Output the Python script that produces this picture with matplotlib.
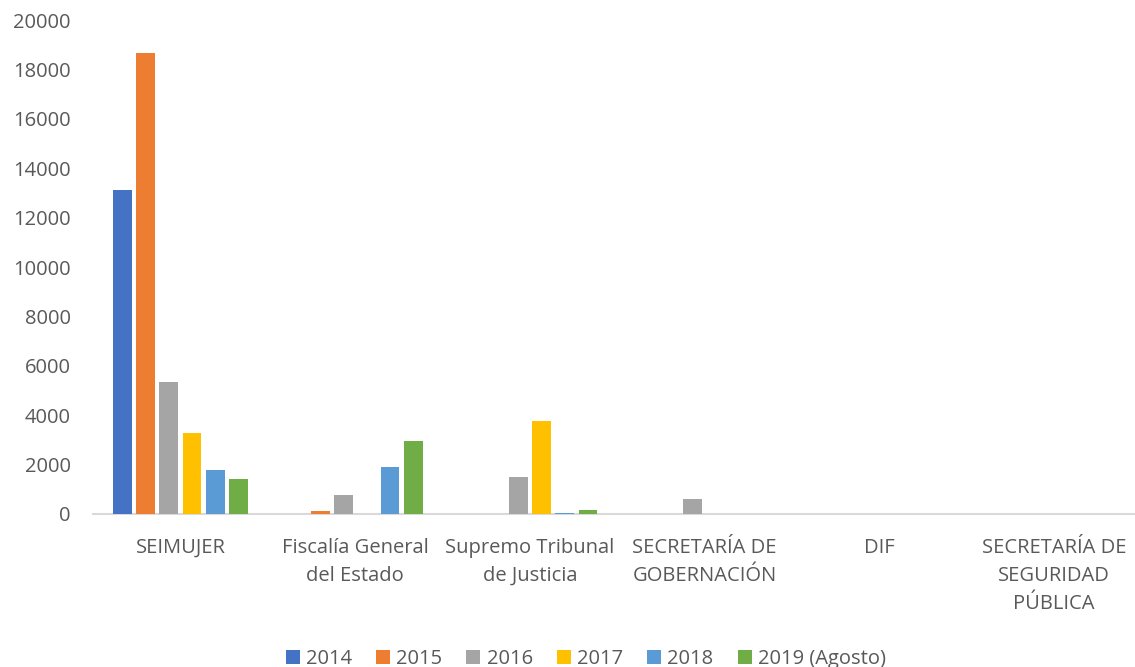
import matplotlib
matplotlib.use("Agg")
import matplotlib.pyplot as plt
import numpy as np

categories = ["SEIMUJER", "Fiscalía General\ndel Estado", "Supremo Tribunal\nde Justicia",
              "SECRETARÍA DE\nGOBERNACIÓN", "DIF", "SECRETARÍA DE\nSEGURIDAD\nPÚBLICA"]
series_names = ["2014", "2015", "2016", "2017", "2018", "2019 (Agosto)"]
v2014 = [13100, 0, 0, 0, 0, 0]
v2015 = [18650, 120, 0, 0, 0, 0]
v2016 = [5330, 770, 1485, 625, 0, 0]
v2017 = [3290, 0, 3780, 0, 0, 0]
v2018 = [1770, 1890, 20, 0, 0, 0]
v2019 = [1420, 2940, 150, 0, 0, 0]
yticks = [0, 2000, 4000, 6000, 8000, 10000, 12000, 14000, 16000, 18000, 20000]

series = [v2014, v2015, v2016, v2017, v2018, v2019]
colors = ["#4472C4", "#ED7D31", "#A5A5A5", "#FFC000", "#5B9BD5", "#70AD47"]

plt.rcParams['font.family'] = ['Open Sans', 'DejaVu Sans']
fig = plt.figure(figsize=(11.35, 6.67), dpi=100)
ax = fig.add_axes([0.082, 0.2294, 0.918, 0.7406])

x = np.arange(len(categories))
pitch = 0.1334
width = 0.108
for i, (vals, c, name) in enumerate(zip(series, colors, series_names)):
    ax.bar(x + (i - 2.5) * pitch, vals, width=width, color=c, label=name, zorder=3)

ax.set_xlim(-0.5, 5.465)
ax.set_ylim(0, 20000)
ax.set_yticks(yticks)
ax.set_yticklabels([str(t) for t in yticks])
ax.set_xticks(x)
ax.set_xticklabels(categories, linespacing=1.55)
for s in ["top", "right", "left"]:
    ax.spines[s].set_visible(False)
ax.spines["bottom"].set_color("#D9D9D9")
ax.spines["bottom"].set_linewidth(1.5)
ax.tick_params(axis="both", length=0, colors="#595959", labelsize=14.5)
ax.tick_params(axis="x", pad=17)
ax.tick_params(axis="y", pad=16)

leg = fig.legend(loc="lower center", bbox_to_anchor=(0.516, -0.03), ncol=6, frameon=False,
                 fontsize=14.5, handlelength=0.7, handleheight=0.7, handletextpad=0.3,
                 columnspacing=1.2)
for t in leg.get_texts():
    t.set_color("#595959")

fig.savefig("out.png", dpi=100)
